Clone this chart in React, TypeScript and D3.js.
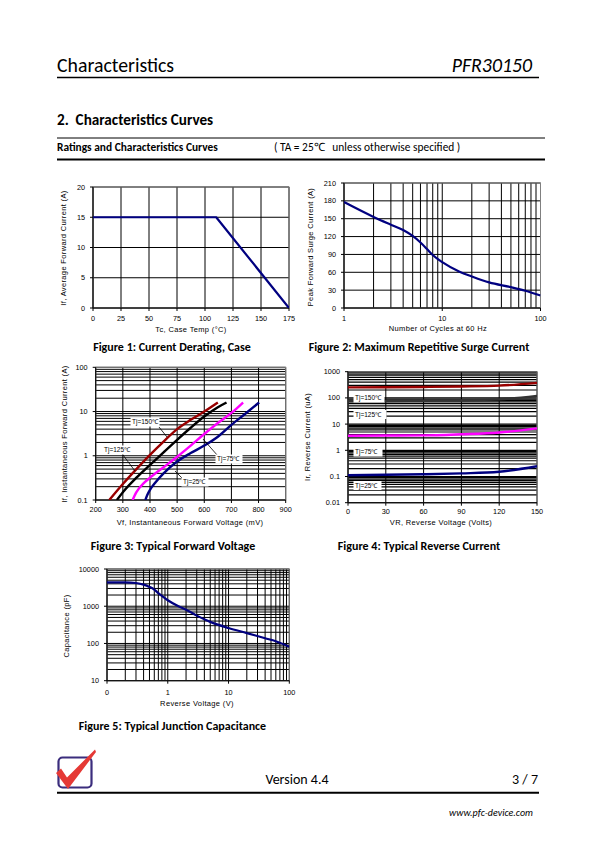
import React from 'react';
import * as d3 from 'd3';

// ---------- DATA ----------
// Figure 1: Current derating
const F1_TEMP = [0, 110, 175];
const F1_CURRENT = [15, 15, 0];
const F1_XTICKS = [0, 25, 50, 75, 100, 125, 150, 175];
const F1_YTICKS = [0, 5, 10, 15, 20];

// Figure 2: Maximum repetitive surge current
const F2_CYCLES = [1, 2, 3, 4, 5, 6, 7, 8, 10, 15, 20, 30, 50, 70, 100];
const F2_SURGE = [178, 153, 140, 131, 121, 110, 99, 89, 77, 61, 53, 43, 35, 29, 21];
const F2_XTICKS = [1, 10, 100];
const F2_YTICKS = [0, 30, 60, 90, 120, 150, 180, 210];

// Figure 3: Typical forward voltage
const F3_VF_150 = [250, 300, 350, 400, 450, 500, 550, 600, 650];
const F3_IF_150 = [0.1, 0.23, 0.5, 1.05, 2.1, 4, 6.5, 10, 16];
const F3_VF_125 = [278, 300, 350, 400, 450, 500, 550, 600, 650, 682];
const F3_IF_125 = [0.1, 0.15, 0.32, 0.62, 1.2, 2.3, 4.3, 7.7, 12.5, 16];
const F3_VF_75 = [336, 350, 380, 400, 450, 500, 550, 600, 650, 700, 743];
const F3_IF_75 = [0.1, 0.15, 0.25, 0.32, 0.55, 0.95, 1.7, 3.1, 5.5, 9.3, 16];
const F3_VF_25 = [383, 390, 400, 420, 450, 500, 550, 600, 650, 700, 750, 802];
const F3_IF_25 = [0.1, 0.13, 0.17, 0.25, 0.4, 0.74, 1.15, 1.7, 2.7, 5, 8.8, 16];
const F3_XTICKS = [200, 300, 400, 500, 600, 700, 800, 900];
const F3_YTICKS = [0.1, 1, 10, 100];
const F3_YLABELS = ['0.1', '1', '10', '100'];

// Figure 4: Typical reverse current
const F4_VR = [0, 30, 60, 90, 120, 150];
const F4_IR_150 = [252, 256, 262, 272, 293, 375];
const F4_IR_125 = [75, 76, 78, 80, 88, 120];
const F4_IR_75 = [3.6, 3.65, 3.7, 4.1, 4.8, 6.9];
const F4_IR_25 = [0.112, 0.116, 0.122, 0.132, 0.152, 0.245];
const F4_XTICKS = [0, 30, 60, 90, 120, 150];
const F4_YTICKS = [0.01, 0.1, 1, 10, 100, 1000];
const F4_YLABELS = ['0.01', '0.1', '1', '10', '100', '1000'];

// Figure 5: Typical junction capacitance
const F5_VR = [0.1, 0.2, 0.3, 0.4, 0.5, 0.6, 0.7, 0.8, 1, 1.5, 2, 3, 5, 10, 20, 40, 60, 100];
const F5_CAP = [4400, 4380, 4200, 3800, 3300, 2800, 2250, 1900, 1450, 1000, 810, 560, 380, 260, 190, 138, 115, 82];
const F5_XTICKS = [0.1, 1, 10, 100];
const F5_XLABELS = ['0', '1', '10', '100'];
const F5_YTICKS = [10, 100, 1000, 10000];

const TJ_LABELS = ['Tj=150\u2103', 'Tj=125\u2103', 'Tj=75\u2103', 'Tj=25\u2103'];

// ---------- HELPERS ----------
const CAL = 'Carlito, Lato, "Open Sans", sans-serif';
const ARIAL = '"Liberation Sans", Arial, sans-serif';

function logGrid(lo: number, hi: number): number[] {
  const out: number[] = [];
  for (let e = Math.round(Math.log10(lo)); e < Math.round(Math.log10(hi)); e++) {
    for (let k = 1; k <= 9; k++) out.push(k * Math.pow(10, e));
  }
  out.push(hi);
  return out;
}

type Axis = {
  type: 'lin' | 'log';
  domain: [number, number];
  range: [number, number];
  ticks: number[];
  labels?: string[];
  grid: number[];
};

type Series = { xs: number[]; ys: number[]; color: string; width?: number; straight?: boolean };
type Label = { text: string; x: number; y: number; w: number };
type Arrow = { x1: number; y1: number; x2: number; y2: number };

function makeScale(a: Axis) {
  return a.type === 'log'
    ? d3.scaleLog().domain(a.domain).range(a.range)
    : d3.scaleLinear().domain(a.domain).range(a.range);
}

function Chart(props: {
  id: string;
  x: Axis;
  y: Axis;
  series: Series[];
  xTitle: string;
  xTitlePos: [number, number];
  yTitle: string;
  yTitlePos: [number, number];
  caption: string;
  captionPos: [number, number];
  xLabelY: number;
  hGridW?: number;
  vGridW?: number;
  labels?: Label[];
  arrows?: Arrow[];
}) {
  const { id, x, y, series } = props;
  const xs = makeScale(x);
  const ys = makeScale(y);
  const [l, r] = x.range;
  const [b, t] = y.range;
  const smooth = d3
    .line<[number, number]>()
    .x((d) => xs(d[0]))
    .y((d) => ys(d[1]))
    .curve(d3.curveMonotoneX);
  const straight = d3
    .line<[number, number]>()
    .x((d) => xs(d[0]))
    .y((d) => ys(d[1]));
  const hW = props.hGridW ?? 1;
  const vW = props.vGridW ?? 1;
  return (
    <g>
      <defs>
        <clipPath id={id}>
          <rect x={l} y={t} width={r - l} height={b - t} />
        </clipPath>
      </defs>
      {x.grid.map((v, i) => (
        <line key={'vx' + i} x1={xs(v)} x2={xs(v)} y1={t} y2={b} stroke="#000" strokeWidth={vW} />
      ))}
      {y.grid.map((v, i) => (
        <line key={'hy' + i} x1={l} x2={r} y1={ys(v)} y2={ys(v)} stroke="#000" strokeWidth={hW} />
      ))}
      <rect x={l} y={t} width={r - l} height={b - t} fill="none" stroke="#808080" strokeWidth={1} />
      <line x1={l} x2={l} y1={t} y2={b} stroke="#000" strokeWidth={1} />
      <line x1={l} x2={r} y1={b} y2={b} stroke="#000" strokeWidth={1} />
      {x.ticks.map((v, i) => (
        <line key={'xt' + i} x1={xs(v)} x2={xs(v)} y1={b} y2={b + 3} stroke="#000" strokeWidth={1} />
      ))}
      {y.ticks.map((v, i) => (
        <line key={'yt' + i} x1={l - 3} x2={l} y1={ys(v)} y2={ys(v)} stroke="#000" strokeWidth={1} />
      ))}
      {x.ticks.map((v, i) => (
        <text key={'xl' + i} x={xs(v)} y={props.xLabelY} fontSize={7.3} fontFamily={ARIAL} textAnchor="middle">
          {x.labels ? x.labels[i] : String(v)}
        </text>
      ))}
      {y.ticks.map((v, i) => (
        <text key={'yl' + i} x={l - 8} y={ys(v) + 2.5} fontSize={7.3} fontFamily={ARIAL} textAnchor="end">
          {y.labels ? y.labels[i] : String(v)}
        </text>
      ))}
      <g clipPath={`url(#${id})`}>
        {series.map((s, i) => {
          const pts = s.xs.map((xv, j) => [xv, s.ys[j]] as [number, number]);
          return (
            <path
              key={'s' + i}
              d={(s.straight ? straight(pts) : smooth(pts)) || ''}
              fill="none"
              stroke={s.color}
              strokeWidth={s.width ?? 2.4}
              strokeLinejoin="round"
            />
          );
        })}
      </g>
      {(props.arrows || []).map((a, i) => (
        <line key={'ar' + i} x1={a.x1} y1={a.y1} x2={a.x2} y2={a.y2} stroke="#000" strokeWidth={0.8} />
      ))}
      {(props.labels || []).map((lb, i) => (
        <g key={'lb' + i}>
          <rect x={lb.x - 1.5} y={lb.y - 6.5} width={lb.w} height={9} fill="#fff" />
          <text x={lb.x} y={lb.y} fontSize={6.5} fontFamily={ARIAL}>
            {lb.text}
          </text>
        </g>
      ))}
      <text
        x={props.xTitlePos[0]}
        y={props.xTitlePos[1]}
        fontSize={7.5}
        letterSpacing={0.35}
        fontFamily={ARIAL}
        textAnchor="middle"
      >
        {props.xTitle}
      </text>
      <text
        transform={`translate(${props.yTitlePos[0]},${props.yTitlePos[1]}) rotate(-90)`}
        fontSize={7.5}
        letterSpacing={0.35}
        fontFamily={ARIAL}
        textAnchor="middle"
      >
        {props.yTitle}
      </text>
      <text
        x={props.captionPos[0]}
        y={props.captionPos[1]}
        fontSize={12}
        fontWeight="bold"
        fontFamily={CAL}
        textAnchor="middle"
      >
        {props.caption}
      </text>
    </g>
  );
}

export default function App() {
  const NAVY = '#000080';
  const RED = '#990000';
  const MAG = '#FF00FF';
  return (
    <svg
      width={595}
      height={842}
      viewBox="0 0 595 842"
      style={{ position: 'absolute', left: 0, top: 0, background: '#fff' }}
    >
      <rect x={0} y={0} width={595} height={842} fill="#fff" />
      {/* Header */}
      <text x={57} y={72} fontSize={19.8} fontFamily={CAL} fill="#000">
        Characteristics
      </text>
      <text x={532} y={72} fontSize={19.8} fontFamily={CAL} fontStyle="italic" textAnchor="end">
        PFR30150
      </text>
      <line x1={57} x2={539} y1={77.5} y2={77.5} stroke="#000" strokeWidth={1.5} />
      <text x={57} y={125} fontSize={15.2} fontWeight="bold" fontFamily={CAL}>
        {'2.\u00a0 Characteristics Curves'}
      </text>
      <line x1={57} x2={545} y1={138} y2={138} stroke="#000" strokeWidth={1} />
      <text x={57} y={151} fontSize={11.4} fontWeight="bold" fontFamily={CAL}>
        Ratings and Characteristics Curves
      </text>
      <text x={274} y={151} fontSize={11.4} fontFamily={CAL}>
        {'( TA = 25\u2103\u00a0\u00a0 unless otherwise specified )'}
      </text>
      <line x1={57} x2={545} y1={159.5} y2={159.5} stroke="#000" strokeWidth={2} />

      {/* Figure 1 */}
      <Chart
        id="c1"
        x={{ type: 'lin', domain: [0, 175], range: [93, 289], ticks: F1_XTICKS, grid: F1_XTICKS }}
        y={{ type: 'lin', domain: [0, 20], range: [308, 187], ticks: F1_YTICKS, grid: F1_YTICKS }}
        series={[{ xs: F1_TEMP, ys: F1_CURRENT, color: NAVY, width: 2.2, straight: true }]}
        xTitle="Tc, Case Temp (°C)"
        xTitlePos={[191, 331.5]}
        yTitle="If, Average Forward Current (A)"
        yTitlePos={[66, 248]}
        caption="Figure 1: Current Derating, Case"
        captionPos={[172, 351]}
        xLabelY={320.5}
      />

      {/* Figure 2 */}
      <Chart
        id="c2"
        x={{ type: 'log', domain: [1, 100], range: [344, 540.5], ticks: F2_XTICKS, grid: logGrid(1, 100) }}
        y={{ type: 'lin', domain: [0, 210], range: [308, 183], ticks: F2_YTICKS, grid: F2_YTICKS }}
        series={[{ xs: F2_CYCLES, ys: F2_SURGE, color: NAVY, width: 2.2 }]}
        xTitle="Number of Cycles at 60 Hz"
        xTitlePos={[438, 331]}
        yTitle="Peak Forward Surge Current (A)"
        yTitlePos={[313, 247]}
        caption="Figure 2: Maximum Repetitive Surge Current"
        captionPos={[419, 351]}
        xLabelY={321}
      />

      {/* Figure 3 */}
      <Chart
        id="c3"
        x={{ type: 'lin', domain: [200, 900], range: [95.7, 285.7], ticks: F3_XTICKS, grid: F3_XTICKS }}
        y={{
          type: 'log',
          domain: [0.1, 100],
          range: [500, 367.3],
          ticks: F3_YTICKS,
          labels: F3_YLABELS,
          grid: logGrid(0.1, 100),
        }}
        series={[
          { xs: F3_VF_150, ys: F3_IF_150, color: RED },
          { xs: F3_VF_125, ys: F3_IF_125, color: '#000' },
          { xs: F3_VF_75, ys: F3_IF_75, color: MAG },
          { xs: F3_VF_25, ys: F3_IF_25, color: NAVY },
        ]}
        arrows={[
          { x1: 159, y1: 427, x2: 167, y2: 437 },
          { x1: 123, y1: 455, x2: 135, y2: 471 },
          { x1: 218, y1: 456, x2: 203, y2: 439 },
          { x1: 182, y1: 478, x2: 175, y2: 471 },
        ]}
        labels={[
          { text: TJ_LABELS[0], x: 132, y: 424, w: 29 },
          { text: TJ_LABELS[1], x: 104, y: 452, w: 29 },
          { text: TJ_LABELS[2], x: 217, y: 461, w: 27 },
          { text: TJ_LABELS[3], x: 183, y: 484, w: 27 },
        ]}
        xTitle="Vf, Instantaneous Forward  Voltage (mV)"
        xTitlePos={[190, 525]}
        yTitle="If, Instantaneous Forward Current (A)"
        yTitlePos={[67, 434]}
        caption="Figure 3: Typical Forward Voltage"
        captionPos={[173, 550]}
        xLabelY={512}
      />

      {/* Figure 4 */}
      <Chart
        id="c4"
        x={{ type: 'lin', domain: [0, 150], range: [348, 537], ticks: F4_XTICKS, grid: F4_XTICKS }}
        y={{
          type: 'log',
          domain: [0.01, 1000],
          range: [502.7, 371.7],
          ticks: F4_YTICKS,
          labels: F4_YLABELS,
          grid: logGrid(0.01, 1000),
        }}
        hGridW={1.2}
        series={[
          { xs: F4_VR, ys: F4_IR_150, color: RED },
          { xs: F4_VR, ys: F4_IR_125, color: '#333' },
          { xs: F4_VR, ys: F4_IR_75, color: MAG },
          { xs: F4_VR, ys: F4_IR_25, color: NAVY },
        ]}
        labels={[
          { text: TJ_LABELS[0], x: 355, y: 400, w: 31 },
          { text: TJ_LABELS[1], x: 355, y: 416.5, w: 33 },
          { text: TJ_LABELS[2], x: 355, y: 454, w: 29 },
          { text: TJ_LABELS[3], x: 355, y: 487.5, w: 28 },
        ]}
        xTitle="VR, Reverse Voltage (Volts)"
        xTitlePos={[441, 525]}
        yTitle="Ir, Reverse Current (uA)"
        yTitlePos={[310, 437]}
        caption="Figure 4: Typical Reverse Current"
        captionPos={[419, 550]}
        xLabelY={514}
      />

      {/* Figure 5 */}
      <Chart
        id="c5"
        x={{
          type: 'log',
          domain: [0.1, 100],
          range: [107, 289.3],
          ticks: F5_XTICKS,
          labels: F5_XLABELS,
          grid: logGrid(0.1, 100),
        }}
        y={{ type: 'log', domain: [10, 10000], range: [680.7, 569], ticks: F5_YTICKS, grid: logGrid(10, 10000) }}
        series={[{ xs: F5_VR, ys: F5_CAP, color: NAVY, width: 2.2 }]}
        xTitle="Reverse Voltage (V)"
        xTitlePos={[197, 706]}
        yTitle="Capacitance (pF)"
        yTitlePos={[69, 626]}
        caption="Figure 5: Typical Junction Capacitance"
        captionPos={[172.5, 730]}
        xLabelY={695}
      />

      {/* Footer */}
      <rect x={58.5} y={757.5} width={33} height={30} rx={4} fill="none" stroke="#3b2d7d" strokeWidth={2.2} />
      <polygon points="56,773 61,768.5 67,777.5 95,749.5 96,752 68,789" fill="#e53935" />
      <text x={297} y={784} fontSize={14} fontFamily={CAL} textAnchor="middle">
        Version 4.4
      </text>
      <text x={538} y={784} fontSize={14} fontFamily={CAL} textAnchor="end">
        3 / 7
      </text>
      <line x1={57} x2={539} y1={792.7} y2={792.7} stroke="#000" strokeWidth={2} />
      <text x={533} y={816} fontSize={10} fontFamily={CAL} fontStyle="italic" textAnchor="end">
        www.pfc-device.com
      </text>
    </svg>
  );
}
